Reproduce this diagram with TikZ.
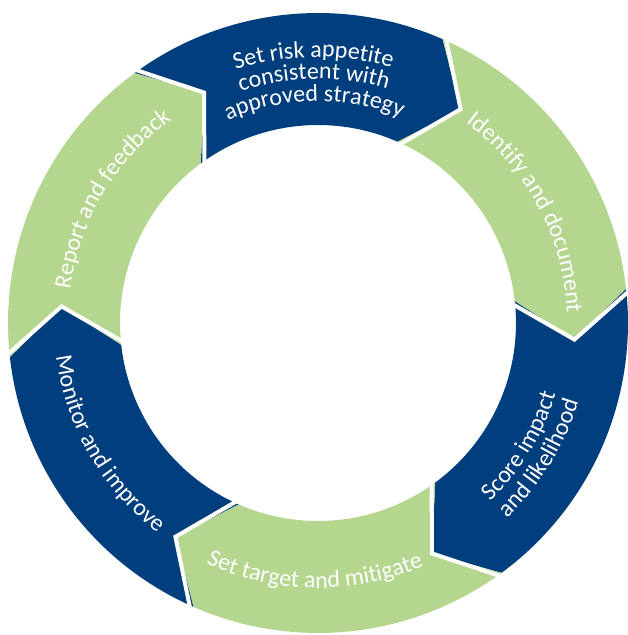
\documentclass[tikz,border=0pt]{standalone}
\usepackage{fontspec}
\setmainfont{Carlito}
\usetikzlibrary{decorations.text}
\definecolor{ringblue}{RGB}{1,62,125}
\definecolor{ringgreen}{RGB}{181,214,143}
\tikzset{
  gapline/.style={white, line width=4, line join=miter},
  arclabel/.style={decorate, decoration={text along path, text align=center,
      text color=white, text={#1}}},
}
% text on an arc around the ring centre: centre angle, baseline radius, text
% \cwtext runs clockwise (letters face outward), \ccwtext counter-clockwise (letters face inward)
\newcommand\cwtext[3]{\path[arclabel={#3}] ({#1+45}:#2) arc[start angle={#1+45}, end angle={#1-45}, radius=#2];}
\newcommand\ccwtext[3]{\path[arclabel={#3}] ({#1-45}:#2) arc[start angle={#1-45}, end angle={#1+45}, radius=#2];}
\begin{document}
\begin{tikzpicture}[x=1pt,y=1pt]
\fontsize{24}{24}\selectfont
\def\Ro{310}\def\Ri{198}\def\Rm{257}
\useasboundingbox (-318,-312) rectangle (309,323);
% six chevron segments of the ring, each pointing clockwise
\foreach \b/\c in {126.3/ringblue, 66.3/ringgreen, 6.3/ringblue,
                   -53.7/ringgreen, -113.7/ringblue, -173.7/ringgreen}{
  \fill[\c] (\b:\Ro) arc[start angle=\b, end angle={\b-60}, radius=\Ro]
    -- ({\b-70}:\Rm) -- ({\b-60}:\Ri)
    arc[start angle={\b-60}, end angle=\b, radius=\Ri]
    -- ({\b-10}:\Rm) -- cycle;
}
% white gaps between neighbouring segments
\foreach \b in {126.3, 66.3, 6.3, -53.7, -113.7, -173.7}{
  \draw[gapline] (\b:{\Ro+6}) -- ({\b-10}:\Rm) -- (\b:{\Ri-6});
}
% labels
\cwtext{91}{266}{Set risk appetite}
\cwtext{91}{244}{consistent with}
\cwtext{91}{222}{approved strategy}
\cwtext{28}{249}{Identify and document}
\ccwtext{-31.3}{248}{Score impact}
\ccwtext{-31.3}{272}{and likelihood}
\ccwtext{-90.7}{265}{Set target and mitigate}
\ccwtext{-150}{264}{Monitor and improve}
\cwtext{149}{250}{Report and feedback}
\end{tikzpicture}
\end{document}
